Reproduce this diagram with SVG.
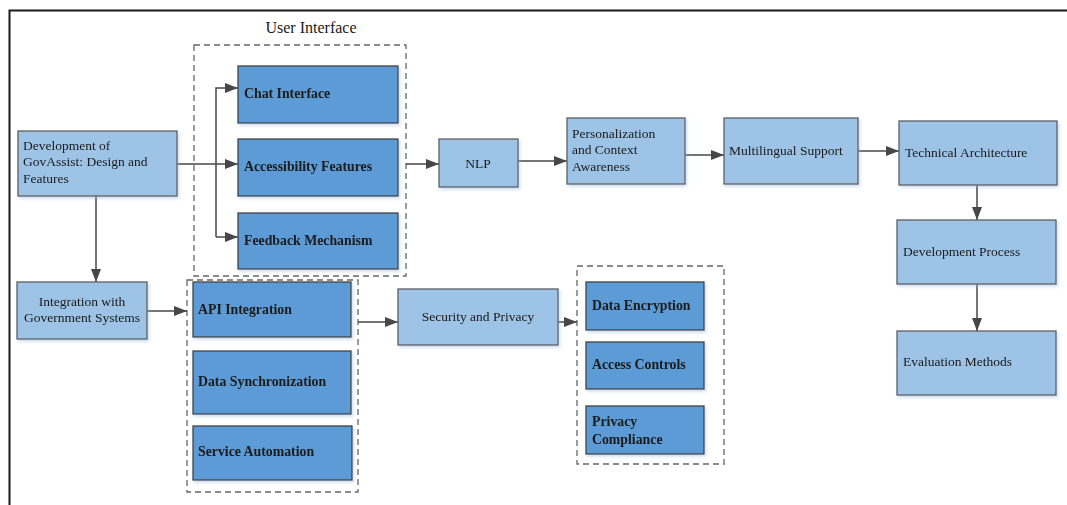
<svg xmlns="http://www.w3.org/2000/svg" width="1067" height="505" viewBox="0 0 1067 505">
  <style>
    .light { fill: #9dc3e6; stroke: #5f5f5f; stroke-width: 1.3; }
    .dark { fill: #5b9bd5; stroke: #444444; stroke-width: 1.3; }
    .group { fill: none; stroke: #666666; stroke-width: 1.3; stroke-dasharray: 6 4; }
    .txt { font-family: "Liberation Serif", "Times New Roman", serif; font-size: 13.5px; fill: #1a1a1a; }
    .bold { font-weight: bold; font-size: 13.8px; }
    .mid { text-anchor: middle; }
    .wire { fill: none; stroke: #474747; stroke-width: 1.5; }
    .frame { fill: none; stroke: #1a1a1a; stroke-width: 2; }
  </style>
  <defs>
    <marker id="arrow" markerUnits="userSpaceOnUse" markerWidth="14" markerHeight="11" refX="13" refY="5" orient="auto">
      <path d="M0,0 L13,5 L0,10 z" fill="#474747"/>
    </marker>
    <filter id="shadow" x="-10%" y="-10%" width="130%" height="140%">
      <feDropShadow dx="1.5" dy="2" stdDeviation="1.5" flood-color="#8fb3dc" flood-opacity="0.45"/>
    </filter>
  </defs>

  <rect width="1067" height="505" fill="#ffffff"/>

  <!-- outer frame: top and left rules -->
  <path class="frame" d="M1067,10.5 L9.5,10.5 L9.5,505"/>

  <!-- dashed groupings -->
  <g id="group-user-interface">
    <rect class="group" x="194" y="45" width="212" height="231"/>
    <text class="txt mid" x="311" y="33" style="font-size:16px">User Interface</text>
  </g>
  <rect id="group-integration" class="group" x="187" y="280" width="171" height="212"/>
  <rect id="group-security" class="group" x="577" y="266" width="147" height="198"/>

  <!-- connectors -->
  <g id="connectors">
    <path class="wire" d="M177,164 L238,164" marker-end="url(#arrow)"/>
    <path class="wire" d="M216,237 L216,88 L238,88" marker-end="url(#arrow)"/>
    <path class="wire" d="M216,237 L238,237" marker-end="url(#arrow)"/>
    <path class="wire" d="M96,196 L96,282" marker-end="url(#arrow)"/>
    <path class="wire" d="M147,311 L187,311" marker-end="url(#arrow)"/>
    <path class="wire" d="M358,322 L398,322" marker-end="url(#arrow)"/>
    <path class="wire" d="M558,322 L577,322" marker-end="url(#arrow)"/>
    <path class="wire" d="M406,164 L439,164" marker-end="url(#arrow)"/>
    <path class="wire" d="M518,161 L567,161" marker-end="url(#arrow)"/>
    <path class="wire" d="M685,155 L724,155" marker-end="url(#arrow)"/>
    <path class="wire" d="M858,151 L899,151" marker-end="url(#arrow)"/>
    <path class="wire" d="M977,185 L977,220" marker-end="url(#arrow)"/>
    <path class="wire" d="M977,284 L977,331" marker-end="url(#arrow)"/>
  </g>

  <g id="node-development" filter="url(#shadow)">
    <rect class="light" x="18" y="131" width="159" height="65"/>
    <text class="txt" x="23" y="150">Development of</text>
    <text class="txt" x="23" y="166">GovAssist: Design and</text>
    <text class="txt" x="23" y="182.5">Features</text>
  </g>

  <g id="node-chat" filter="url(#shadow)">
    <rect class="dark" x="238" y="66" width="160" height="57"/>
    <text class="txt bold" x="244" y="98">Chat Interface</text>
  </g>
  <g id="node-accessibility" filter="url(#shadow)">
    <rect class="dark" x="238" y="139" width="160" height="57"/>
    <text class="txt bold" x="244" y="171">Accessibility Features</text>
  </g>
  <g id="node-feedback" filter="url(#shadow)">
    <rect class="dark" x="238" y="213" width="160" height="56"/>
    <text class="txt bold" x="244" y="245">Feedback Mechanism</text>
  </g>

  <g id="node-nlp" filter="url(#shadow)">
    <rect class="light" x="439" y="139" width="79" height="48"/>
    <text class="txt mid" x="478" y="168">NLP</text>
  </g>
  <g id="node-personalization" filter="url(#shadow)">
    <rect class="light" x="567" y="118" width="118" height="66"/>
    <text class="txt" x="572" y="137.5">Personalization</text>
    <text class="txt" x="572" y="154">and Context</text>
    <text class="txt" x="572" y="170.5">Awareness</text>
  </g>
  <g id="node-multilingual" filter="url(#shadow)">
    <rect class="light" x="724" y="118" width="134" height="66"/>
    <text class="txt" x="729" y="155">Multilingual Support</text>
  </g>
  <g id="node-technical" filter="url(#shadow)">
    <rect class="light" x="899" y="121" width="158" height="64"/>
    <text class="txt" x="905" y="157">Technical Architecture</text>
  </g>
  <g id="node-process" filter="url(#shadow)">
    <rect class="light" x="897" y="220" width="159" height="64"/>
    <text class="txt" x="903" y="255.5">Development Process</text>
  </g>
  <g id="node-evaluation" filter="url(#shadow)">
    <rect class="light" x="897" y="331" width="159" height="64"/>
    <text class="txt" x="903" y="365.5">Evaluation Methods</text>
  </g>

  <g id="node-integration" filter="url(#shadow)">
    <rect class="light" x="17" y="282" width="130" height="57"/>
    <text class="txt mid" x="82" y="306">Integration with</text>
    <text class="txt mid" x="82" y="322">Government Systems</text>
  </g>

  <g id="node-api" filter="url(#shadow)">
    <rect class="dark" x="193" y="282" width="158" height="55"/>
    <text class="txt bold" x="198" y="314">API Integration</text>
  </g>
  <g id="node-sync" filter="url(#shadow)">
    <rect class="dark" x="193" y="351" width="158" height="63"/>
    <text class="txt bold" x="198" y="386">Data Synchronization</text>
  </g>
  <g id="node-automation" filter="url(#shadow)">
    <rect class="dark" x="193" y="426" width="159" height="54"/>
    <text class="txt bold" x="198" y="456">Service Automation</text>
  </g>

  <g id="node-security" filter="url(#shadow)">
    <rect class="light" x="398" y="289" width="160" height="56"/>
    <text class="txt mid" x="478" y="320.5">Security and Privacy</text>
  </g>

  <g id="node-encryption" filter="url(#shadow)">
    <rect class="dark" x="586" y="282" width="118" height="48"/>
    <text class="txt bold" x="592" y="310">Data Encryption</text>
  </g>
  <g id="node-access" filter="url(#shadow)">
    <rect class="dark" x="586" y="342" width="118" height="47"/>
    <text class="txt bold" x="592" y="369">Access Controls</text>
  </g>
  <g id="node-compliance" filter="url(#shadow)">
    <rect class="dark" x="586" y="406" width="118" height="48"/>
    <text class="txt bold" x="592" y="426">Privacy</text>
    <text class="txt bold" x="592" y="444">Compliance</text>
  </g>
</svg>
